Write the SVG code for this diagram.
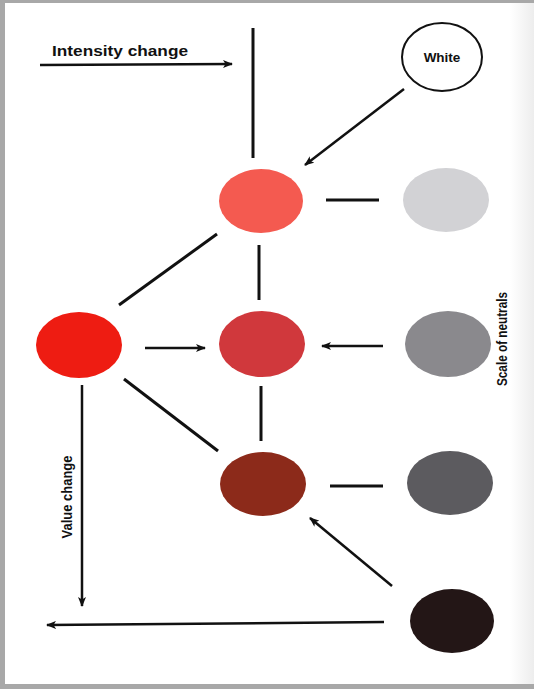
<svg xmlns="http://www.w3.org/2000/svg" width="534" height="689" viewBox="0 0 534 689">
<defs>
<marker id="ah" markerWidth="10" markerHeight="8" refX="9" refY="4" orient="auto" markerUnits="userSpaceOnUse">
<path d="M0,0 L10,4 L0,8 L2.5,4 Z" fill="#111"/>
</marker>
<linearGradient id="rg" x1="0" x2="1" y1="0" y2="0">
<stop offset="0" stop-color="#ffffff"/>
<stop offset="1" stop-color="#ededed"/>
</linearGradient>
</defs>
<style>
.ln{stroke:#111;stroke-width:3;fill:none}
.ar{stroke:#111;stroke-width:2.5;fill:none;marker-end:url(#ah)}
.lbl{font-family:"Liberation Sans",Arial,sans-serif;fill:#111}
</style>
<rect x="0" y="0" width="534" height="689" fill="#a8a8a8"/>
<rect x="5" y="3" width="529" height="681" fill="#ffffff"/>
<rect x="510" y="3" width="24" height="681" fill="url(#rg)"/>
<text class="lbl" x="52" y="56" font-size="15" font-weight="bold" textLength="136" lengthAdjust="spacingAndGlyphs">Intensity change</text>
<text class="lbl" transform="translate(507,339) rotate(-90)" font-size="15" font-weight="bold" text-anchor="middle" textLength="94" lengthAdjust="spacingAndGlyphs">Scale of neutrals</text>
<text class="lbl" transform="translate(72,497) rotate(-90)" font-size="15" font-weight="bold" text-anchor="middle" textLength="83" lengthAdjust="spacingAndGlyphs">Value change</text>
<g id="connectors">
<line class="ar" x1="40" y1="65" x2="232" y2="64"/>
<line class="ln" x1="253" y1="28" x2="253" y2="158"/>
<line class="ar" x1="404" y1="89" x2="305" y2="165"/>
<line class="ln" x1="326" y1="200" x2="379" y2="200"/>
<line class="ln" x1="217" y1="234" x2="119" y2="305"/>
<line class="ln" x1="259" y1="245" x2="259" y2="300"/>
<line class="ar" x1="145" y1="348" x2="205" y2="348"/>
<line class="ar" x1="383" y1="346" x2="322" y2="346"/>
<line class="ln" x1="261" y1="386" x2="261" y2="441"/>
<line class="ln" x1="124" y1="379" x2="218" y2="451"/>
<line class="ln" x1="330" y1="486" x2="383" y2="486"/>
<line class="ar" x1="392" y1="586" x2="310" y2="518"/>
<line class="ar" x1="82" y1="385" x2="82" y2="606"/>
<line class="ar" x1="384" y1="622" x2="47" y2="625"/>
</g>
<g id="white"><ellipse cx="442" cy="57" rx="40" ry="34" fill="#fff" stroke="#111" stroke-width="2"/><text class="lbl" x="442" y="62" font-size="13.5" font-weight="bold" text-anchor="middle">White</text></g>
<g id="tint"><ellipse cx="261" cy="201" rx="42" ry="32" fill="#f45a50"/></g>
<g id="lightgray"><ellipse cx="446" cy="200" rx="43" ry="32" fill="#d2d2d5"/></g>
<g id="red"><ellipse cx="79" cy="345" rx="43" ry="33" fill="#ee1c12"/></g>
<g id="tone"><ellipse cx="262" cy="344" rx="43" ry="33" fill="#d0383c"/></g>
<g id="midgray"><ellipse cx="448" cy="344" rx="43" ry="33" fill="#8a898d"/></g>
<g id="shade"><ellipse cx="263" cy="484" rx="43" ry="32" fill="#8c2a1a"/></g>
<g id="darkgray"><ellipse cx="450" cy="483" rx="43" ry="32" fill="#5c5b5f"/></g>
<g id="black"><ellipse cx="452" cy="621" rx="42" ry="32" fill="#231616"/></g>
</svg>
